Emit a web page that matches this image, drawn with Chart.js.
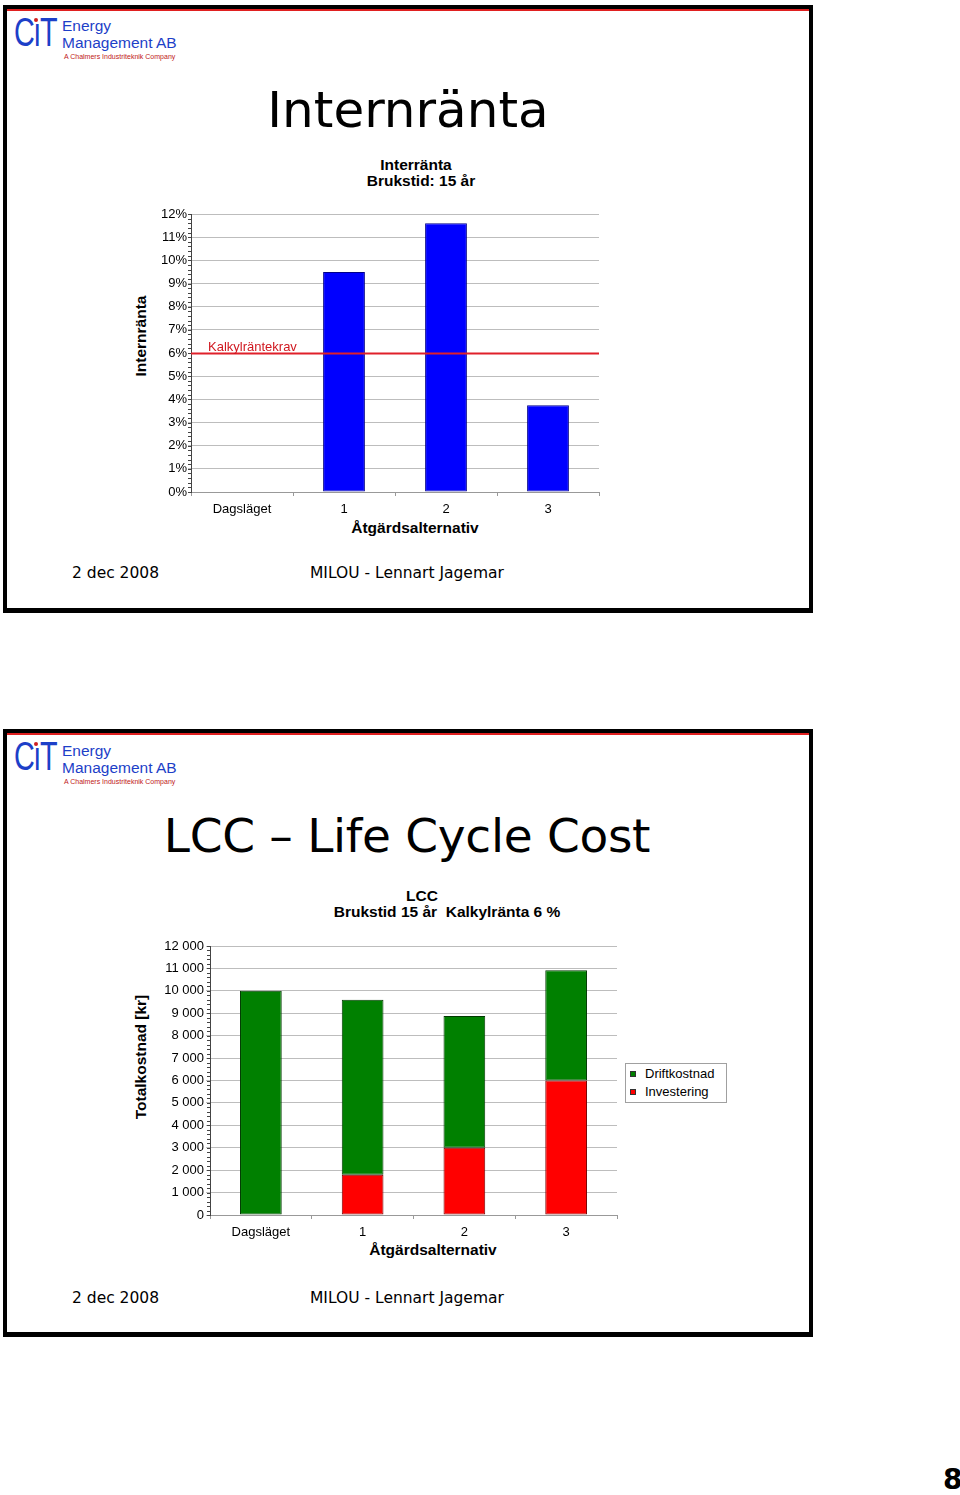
<!DOCTYPE html>
<html>
<head>
<meta charset="utf-8">
<script src="https://cdn.jsdelivr.net/npm/chart.js@4.4.1/dist/chart.umd.min.js"></script>
<style>
body { margin: 0; width: 960px; height: 1495px; background: #fff; position: relative; overflow: hidden; font-family: "Liberation Sans", Arial, sans-serif; }
.slide { position: absolute; left: 3px; width: 802px; height: 599px; border-style: solid; border-color: #000; border-width: 4px 4px 5px 4px; }
.slide .redline { position: absolute; left: 0; right: 0; top: 0; height: 2px; background: #e02020; }
.abs { position: absolute; white-space: nowrap; }
.logoC { font-family: "Liberation Sans", sans-serif; font-size: 40px; color: #1d3fc8; letter-spacing: -2px; transform: scaleX(0.72); transform-origin: left top; }
.logo1 { font-size: 15.5px; color: #1d3fc8; line-height: 17px; }
.logo2 { font-size: 7px; color: #c02020; }
.big { font-family: "Comic Sans MS", "DejaVu Sans", sans-serif; color: #000; }
.foot { font-family: "Comic Sans MS", "DejaVu Sans", sans-serif; font-size: 15.5px; color: #000; }
.ttl { font-weight: bold; font-size: 15.5px; color: #000; transform: translate(-50%, -50%); }
.ytl { font-weight: bold; font-size: 15.5px; color: #000; transform: translate(-50%, -50%) rotate(-90deg); }
canvas { position: absolute; }
.legend { position: absolute; border: 1px solid #a0a0a0; background: #fff; font-size: 13px; }
.legend div { position: relative; height: 18px; line-height: 18px; padding-left: 19px; }
.legend span { position: absolute; left: 4px; top: 6px; width: 6px; height: 6px; border: 1px solid #333; box-sizing: border-box; }
</style>
</head>
<body>

<!-- slide 1 -->
<div class="slide" style="top:5px;"><div class="redline"></div></div>
<div class="abs logoC" style="left:14px; top:10px;">CıT</div>
<div class="abs" style="left:34px; top:18px; width:4px; height:4px; background:#d02020; border-radius:2px;"></div>
<div class="abs logo1" style="left:62px; top:17px;">Energy<br>Management AB</div>
<div class="abs logo2" style="left:64px; top:53px;">A Chalmers Industriteknik Company</div>
<div class="abs big" style="left:408px; top:110px; font-size:50px; transform:translate(-50%,-50%);">Internränta</div>
<div class="abs ttl" style="left:416px; top:165px;">Interränta</div>
<div class="abs ttl" style="left:421px; top:181px;">Brukstid: 15 år</div>
<div class="abs ytl" style="left:141px; top:336px;">Internränta</div>
<div class="abs ttl" style="left:415px; top:528px;">Åtgärdsalternativ</div>
<canvas id="irr" width="490" height="330" style="left:130px; top:200px; width:490px; height:330px;"></canvas>
<div class="abs foot" style="left:72px; top:564px;">2 dec 2008</div>
<div class="abs foot" style="left:310px; top:564px;">MILOU - Lennart Jagemar</div>

<!-- slide 2 -->
<div class="slide" style="top:729px;"><div class="redline"></div></div>
<div class="abs logoC" style="left:14px; top:734px;">CıT</div>
<div class="abs" style="left:34px; top:742px; width:4px; height:4px; background:#d02020; border-radius:2px;"></div>
<div class="abs logo1" style="left:62px; top:742px;">Energy<br>Management AB</div>
<div class="abs logo2" style="left:64px; top:778px;">A Chalmers Industriteknik Company</div>
<div class="abs big" style="left:407px; top:835px; font-size:47px; letter-spacing:-0.3px; transform:translate(-50%,-50%);">LCC – Life Cycle Cost</div>
<div class="abs ttl" style="left:422px; top:896px;">LCC</div>
<div class="abs ttl" style="left:447px; top:912px; white-space:pre;">Brukstid 15 år  Kalkylränta 6 %</div>
<div class="abs ytl" style="left:141px; top:1057px;">Totalkostnad [kr]</div>
<div class="abs ttl" style="left:433px; top:1250px;">Åtgärdsalternativ</div>
<canvas id="lcc" width="510" height="330" style="left:130px; top:930px; width:510px; height:330px;"></canvas>
<div class="legend" id="lccLegend" style="left:625px; top:1063px; width:100px; height:37px; padding-top:1px;"></div>
<div class="abs foot" style="left:72px; top:1289px;">2 dec 2008</div>
<div class="abs foot" style="left:310px; top:1289px;">MILOU - Lennart Jagemar</div>

<div class="abs" style="left:943px; top:1463px; font-family:'DejaVu Sans',sans-serif; font-weight:bold; font-size:28px;">8</div>

<script>
const categories = ['Dagsläget', '1', '2', '3'];

// internränta per alternativ, %
const irrValues = [null, 9.5, 11.6, 3.75];
const irrTicks = { min: 0, max: 12, step: 1, minor: 0.2 };
const KALKYL_RATE = 6;
const KALKYL_LABEL = 'Kalkylräntekrav';

// LCC, kr
const investering = [0, 1800, 3000, 6000];
const driftkostnad = [10000, 7800, 5880, 4920];
const lccTicks = { min: 0, max: 12000, step: 1000, minor: 200 };

Chart.defaults.font.family = '"Liberation Sans", Arial, sans-serif';
Chart.defaults.font.size = 13;
Chart.defaults.color = '#000';
Chart.defaults.animation = false;

// little ruler ticks on the y axis
const minorTicks = {
    id: 'minorTicks',
    afterDraw(chart, args, opts) {
        const y = chart.scales.y;
        const ctx = chart.ctx;
        const left = chart.chartArea.left;
        ctx.save();
        ctx.strokeStyle = '#444';
        ctx.lineWidth = 1;
        ctx.beginPath();
        for (let v = y.min; v <= y.max + 1e-9; v += opts.step) {
            const py = Math.round(y.getPixelForValue(v)) + 0.5;
            ctx.moveTo(left - 3, py);
            ctx.lineTo(left, py);
        }
        ctx.stroke();
        ctx.restore();
    }
};

// red requirement line across the plot
const rateLine = {
    id: 'rateLine',
    afterDatasetsDraw(chart, args, opts) {
        if (!opts.value) return;
        const ctx = chart.ctx;
        const area = chart.chartArea;
        const py = Math.round(chart.scales.y.getPixelForValue(opts.value)) + 0.5;
        ctx.save();
        ctx.strokeStyle = '#e0202a';
        ctx.lineWidth = 2;
        ctx.beginPath();
        ctx.moveTo(area.left, py);
        ctx.lineTo(area.right, py);
        ctx.stroke();
        ctx.fillStyle = '#d01820';
        ctx.font = '13px "Liberation Sans", Arial, sans-serif';
        ctx.textBaseline = 'alphabetic';
        ctx.fillText(opts.label, area.left + 17, py - 3);
        ctx.restore();
    }
};

function spaced(v) {
    return String(v).replace(/\B(?=(\d{3})+(?!\d))/g, ' ');
}

function axes(t, yWidth, xHeight, fmt, yTickLen, yPad, stacked) {
    return {
        x: {
            stacked: stacked,
            afterFit: s => { s.height = xHeight; },
            grid: { drawOnChartArea: false, drawTicks: true, tickLength: 4, color: '#999' },
            border: { color: '#999' },
            ticks: { padding: 6, font: { size: 13 } }
        },
        y: {
            stacked: stacked,
            min: t.min,
            max: t.max,
            afterFit: s => { s.width = yWidth; },
            grid: { color: '#bdbdbd', tickLength: yTickLen, drawTicks: true },
            border: { color: '#444' },
            ticks: { stepSize: t.step, padding: yPad, font: { size: 13 }, callback: fmt }
        }
    };
}

new Chart(document.getElementById('irr'), {
    type: 'bar',
    data: {
        labels: categories,
        datasets: [{
            label: 'Internränta',
            data: irrValues,
            backgroundColor: '#0000ff',
            borderColor: '#00008a',
            borderWidth: 1,
            borderSkipped: false,
            categoryPercentage: 1,
            barPercentage: 0.41
        }]
    },
    options: {
        responsive: false,
        layout: { padding: { top: 14, right: 21, left: 0, bottom: 0 } },
        scales: axes(irrTicks, 61, 38, v => v + '%', 3, 1, false),
        plugins: {
            legend: { display: false },
            tooltip: { enabled: false },
            minorTicks: { step: irrTicks.minor },
            rateLine: { value: KALKYL_RATE, label: KALKYL_LABEL }
        }
    },
    plugins: [minorTicks, rateLine]
});

const lccSets = [
    { label: 'Investering', data: investering, backgroundColor: '#ff0000', borderColor: '#7a0000' },
    { label: 'Driftkostnad', data: driftkostnad, backgroundColor: '#008000', borderColor: '#003a00' }
];

new Chart(document.getElementById('lcc'), {
    type: 'bar',
    data: {
        labels: categories,
        datasets: lccSets.map(d => Object.assign({
            borderWidth: 1,
            borderSkipped: false,
            categoryPercentage: 1,
            barPercentage: 0.41
        }, d))
    },
    options: {
        responsive: false,
        layout: { padding: { top: 16, right: 23, left: 0, bottom: 0 } },
        scales: axes(lccTicks, 80, 45, v => spaced(v), 4, 2, true),
        plugins: {
            legend: { display: false },
            tooltip: { enabled: false },
            minorTicks: { step: lccTicks.minor }
        }
    },
    plugins: [minorTicks]
});

// legend, top series first like the original
const legendEl = document.getElementById('lccLegend');
lccSets.slice().reverse().forEach(d => {
    const row = document.createElement('div');
    const sw = document.createElement('span');
    sw.style.background = d.backgroundColor;
    row.appendChild(sw);
    row.appendChild(document.createTextNode(d.label));
    legendEl.appendChild(row);
});
</script>
</body>
</html>
